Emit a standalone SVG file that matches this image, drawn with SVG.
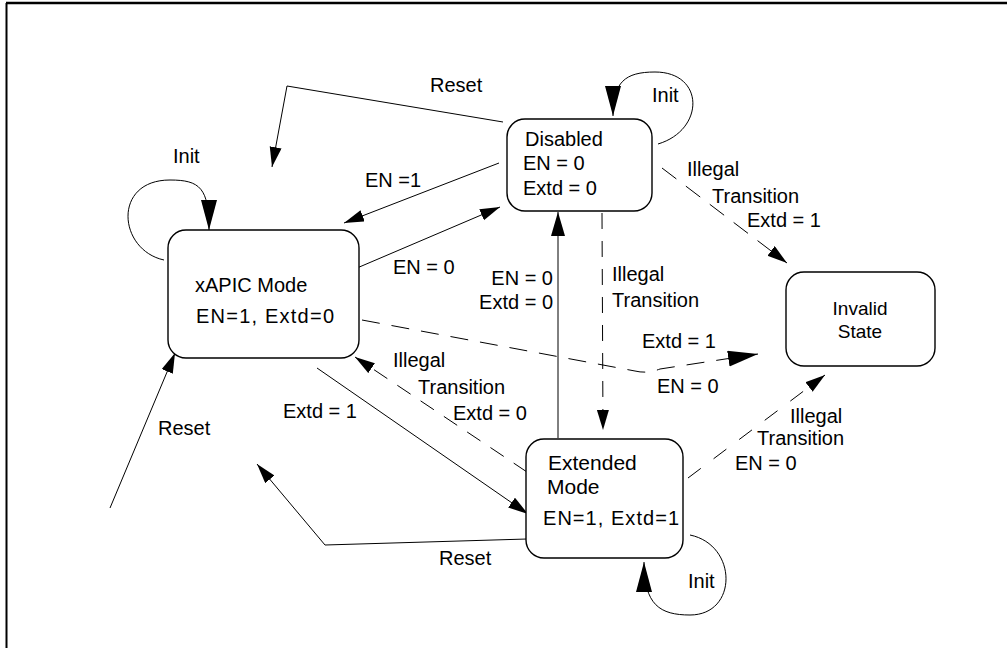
<svg xmlns="http://www.w3.org/2000/svg" width="1007" height="648" viewBox="0 0 1007 648">
<style>
text{font-family:"Liberation Sans",Arial,sans-serif;font-size:20px;fill:#000}
.box{fill:#fff;stroke:#000;stroke-width:1.4}
.c{fill:none;stroke:#000;stroke-width:1}
.d{stroke-dasharray:18 12}
.inv{font-size:19px}
</style>
<defs>
<marker id="sm" markerUnits="userSpaceOnUse" markerWidth="22" markerHeight="14" refX="20" refY="6" orient="auto">
<path d="M0,0 L20,6 L0,12 z" fill="#000"/>
</marker>
<marker id="md" markerUnits="userSpaceOnUse" markerWidth="26" markerHeight="16" refX="24" refY="7" orient="auto">
<path d="M0,0 L24,7 L0,14 z" fill="#000"/>
</marker>
<marker id="lg" markerUnits="userSpaceOnUse" markerWidth="32" markerHeight="18" refX="30" refY="8" orient="auto">
<path d="M0,0 L30,8 L0,16 z" fill="#000"/>
</marker>
</defs>
<g id="frame">
<line x1="6" y1="3" x2="1007" y2="3" stroke="#000" stroke-width="2.5"/>
<line x1="6.5" y1="3" x2="6.5" y2="648" stroke="#000" stroke-width="2"/>
</g>
<g id="connectors">
<path class="c" d="M503,122 L287,86 L272,167" marker-end="url(#sm)"/>
<path class="c" d="M499,163 L344,223" marker-end="url(#sm)"/>
<path class="c" d="M357,268 L500,207" marker-end="url(#sm)"/>
<path class="c" d="M558,438 L558,212" marker-end="url(#md)"/>
<path class="c" d="M602,213 L603,430" style="stroke-dasharray:16 12" marker-end="url(#sm)"/>
<path class="c d" d="M362,320 L635,371 Q647,374 660,369 L758,354" marker-end="url(#lg)"/>
<path class="c d" d="M662,168 L787,263" marker-end="url(#sm)"/>
<path class="c" d="M688,478 L825,375" style="stroke-dasharray:16 16" marker-end="url(#sm)"/>
<path class="c" d="M527,472 L355,357" style="stroke-dasharray:16 12" marker-end="url(#sm)"/>
<path class="c" d="M317,368 L528,514" marker-end="url(#sm)"/>
<path class="c" d="M527,539 L325,545 L257,464" marker-end="url(#sm)"/>
<path class="c" d="M110,508 L175,353" marker-end="url(#sm)"/>
<path class="c" d="M658,144 C705,130 705,72 655,72 C625,72 613,82 613,116" marker-end="url(#lg)"/>
<path class="c" d="M164,260 C118,250 112,180 170,180 C200,180 209,188 209,230" marker-end="url(#lg)"/>
<path class="c" d="M690,535 C738,545 738,615 690,615 C660,615 644,605 644,562" marker-end="url(#lg)"/>
</g>
<g id="labels">
<text x="430" y="92">Reset</text>
<text x="652" y="102">Init</text>
<text x="173" y="163">Init</text>
<text x="365" y="187">EN =1</text>
<text x="687" y="176">Illegal</text>
<text x="712" y="203">Transition</text>
<text x="747" y="227">Extd = 1</text>
<text x="393" y="274">EN = 0</text>
<text x="553" y="285" text-anchor="end">EN = 0</text>
<text x="553" y="309" text-anchor="end">Extd = 0</text>
<text x="612" y="281">Illegal</text>
<text x="612" y="307">Transition</text>
<text x="642" y="348">Extd = 1</text>
<text x="657" y="393">EN = 0</text>
<text x="393" y="367">Illegal</text>
<text x="418" y="394">Transition</text>
<text x="453" y="420">Extd = 0</text>
<text x="283" y="418">Extd = 1</text>
<text x="158" y="435">Reset</text>
<text x="790" y="423">Illegal</text>
<text x="757" y="445">Transition</text>
<text x="735" y="470">EN = 0</text>
<text x="439" y="565">Reset</text>
<text x="688" y="588">Init</text>
</g>
<g id="disabled">
<rect class="box" x="507" y="119" width="145" height="92" rx="18"/>
<text x="525" y="146">Disabled</text>
<text x="523" y="170">EN = 0</text>
<text x="523" y="195">Extd = 0</text>
</g>
<g id="xapic">
<rect class="box" x="168" y="230" width="191" height="128" rx="18"/>
<text x="195" y="292">xAPIC Mode</text>
<text x="196" y="323" textLength="138" lengthAdjust="spacing">EN=1, Extd=0</text>
</g>
<g id="invalid">
<rect class="box" x="786" y="272" width="149" height="94" rx="18"/>
<text class="inv" x="860" y="315" text-anchor="middle">Invalid</text>
<text class="inv" x="860" y="338" text-anchor="middle">State</text>
</g>
<g id="extended">
<rect class="box" x="526" y="439" width="157" height="119" rx="18"/>
<text x="548" y="470" style="font-size:21px">Extended</text>
<text x="547" y="494" style="font-size:21px">Mode</text>
<text x="543" y="525" textLength="136" lengthAdjust="spacing">EN=1, Extd=1</text>
</g>
</svg>
